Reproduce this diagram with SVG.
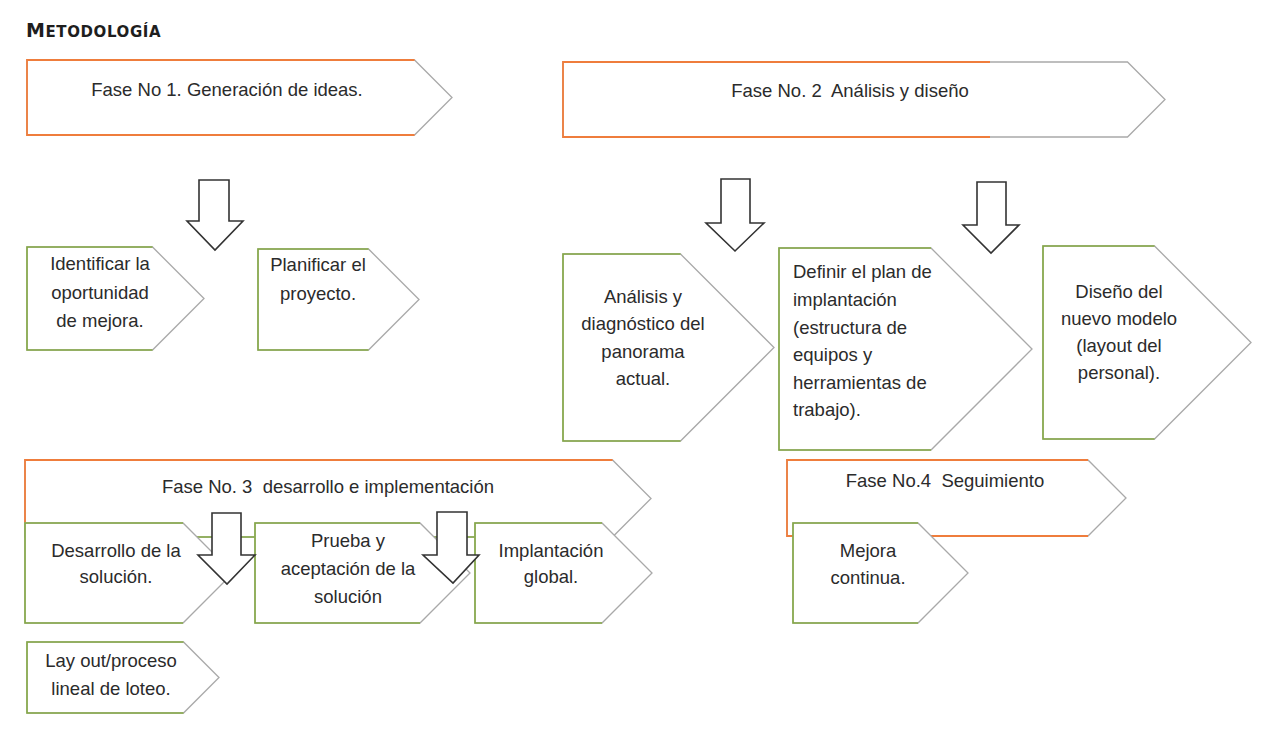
<svg xmlns="http://www.w3.org/2000/svg" width="1264" height="736" viewBox="0 0 1264 736">
<style>
.bg{fill:#fff}
.shape{fill:#fff;stroke:#a9a9a9;stroke-width:1.3}
.or{fill:none;stroke:#ef7d3c;stroke-width:1.8}
.gr{fill:none;stroke:#86ab45;stroke-width:1.6}
.t{font-family:"Liberation Sans",Arial,sans-serif;font-size:18.5px;fill:#2b2b2b;white-space:pre}
.c{text-anchor:middle}
.arr{fill:#fff;stroke:#333;stroke-width:1.6;stroke-linejoin:miter}
.title{font-family:"DejaVu Sans",sans-serif;font-weight:bold;fill:#1e1e1e;letter-spacing:0.6px}
</style>
<rect class="bg" x="0" y="0" width="1264" height="736"/>
<text class="title" x="26" y="37"><tspan font-size="19">M</tspan><tspan font-size="15">ETODOLOGÍA</tspan></text>

<g id="fase1">
<polygon class="shape" points="27,60 414.5,60 452,97.5 414.5,135 27,135"/>
<polyline class="or" points="414.5,60 27,60 27,135 414.5,135"/>
<text class="t c" x="227" y="96">Fase No 1. Generación de ideas.</text>
</g>
<g id="fase2">
<polygon class="shape" points="563,62 1127.5,62 1165,99.5 1127.5,137 563,137"/>
<polyline class="or" points="990,62 563,62 563,137 990,137"/>
<text class="t c" x="850" y="97" xml:space="preserve">Fase No. 2  Análisis y diseño</text>
</g>
<g id="fase3">
<polygon class="shape" points="25,460 612.5,460 651,498.5 612.5,537 25,537"/>
<polyline class="or" points="612.5,460 25,460 25,523"/>
<line class="gr" x1="25" y1="537" x2="612" y2="537"/>
<text class="t c" x="328" y="493" xml:space="preserve">Fase No. 3  desarrollo e implementación</text>
</g>
<g id="fase4">
<polygon class="shape" points="787,460 1088,460 1126,498 1088,536 787,536"/>
<polyline class="or" points="1088,460 787,460 787,536 1088,536"/>
<text class="t c" x="945" y="487" xml:space="preserve">Fase No.4  Seguimiento</text>
</g>

<g id="identificar">
<polygon class="shape" points="27,247 152.5,247 204,298.5 152.5,350 27,350"/>
<polyline class="gr" points="152.5,247 27,247 27,350 152.5,350"/>
<text class="t c"><tspan x="100" y="270">Identificar la</tspan><tspan x="100" y="299">oportunidad</tspan><tspan x="100" y="327">de mejora.</tspan></text>
</g>
<g id="planificar">
<polygon class="shape" points="258,249 368.5,249 419,299.5 368.5,350 258,350"/>
<polyline class="gr" points="368.5,249 258,249 258,350 368.5,350"/>
<text class="t c"><tspan x="318" y="271">Planificar el</tspan><tspan x="318" y="300">proyecto.</tspan></text>
</g>
<g id="analisis">
<polygon class="shape" points="563,254 680.5,254 774,347.5 680.5,441 563,441"/>
<polyline class="gr" points="680.5,254 563,254 563,441 680.5,441"/>
<text class="t c"><tspan x="643" y="303">Análisis y</tspan><tspan x="643" y="330">diagnóstico del</tspan><tspan x="643" y="358">panorama</tspan><tspan x="643" y="385">actual.</tspan></text>
</g>
<g id="definir">
<polygon class="shape" points="779,248 931,248 1032,349 931,450 779,450"/>
<polyline class="gr" points="931,248 779,248 779,450 931,450"/>
<text class="t"><tspan x="793" y="278">Definir el plan de</tspan><tspan x="793" y="306">implantación</tspan><tspan x="793" y="334">(estructura de</tspan><tspan x="793" y="361">equipos y</tspan><tspan x="793" y="389">herramientas de</tspan><tspan x="793" y="416">trabajo).</tspan></text>
</g>
<g id="diseno">
<polygon class="shape" points="1043,246 1154.5,246 1251,342.5 1154.5,439 1043,439"/>
<polyline class="gr" points="1154.5,246 1043,246 1043,439 1154.5,439"/>
<text class="t c"><tspan x="1119" y="298">Diseño del</tspan><tspan x="1119" y="325">nuevo modelo</tspan><tspan x="1119" y="352">(layout del</tspan><tspan x="1119" y="379">personal).</tspan></text>
</g>
<g id="desarrollo">
<polygon class="shape" points="25,523 183,523 233,573 183,623 25,623"/>
<polyline class="gr" points="183,523 25,523 25,623 183,623"/>
<text class="t c"><tspan x="116" y="557">Desarrollo de la</tspan><tspan x="116" y="583">solución.</tspan></text>
</g>
<g id="prueba">
<polygon class="shape" points="255,523 420,523 470,573 420,623 255,623"/>
<polyline class="gr" points="420,523 255,523 255,623 420,623"/>
<text class="t c"><tspan x="348" y="547">Prueba y</tspan><tspan x="348" y="575">aceptación de la</tspan><tspan x="348" y="603">solución</tspan></text>
</g>
<g id="implantacion">
<polygon class="shape" points="475,523 602,523 652,573 602,623 475,623"/>
<polyline class="gr" points="602,523 475,523 475,623 602,623"/>
<text class="t c"><tspan x="551" y="557">Implantación</tspan><tspan x="551" y="583">global.</tspan></text>
</g>
<g id="layout">
<polygon class="shape" points="27,642 183.5,642 219,677.5 183.5,713 27,713"/>
<polyline class="gr" points="183.5,642 27,642 27,713 183.5,713"/>
<text class="t c"><tspan x="111" y="667">Lay out/proceso</tspan><tspan x="111" y="695">lineal de loteo.</tspan></text>
</g>
<g id="mejora">
<polygon class="shape" points="793,523 918,523 968,573 918,623 793,623"/>
<polyline class="gr" points="918,523 793,523 793,623 918,623"/>
<text class="t c"><tspan x="868" y="557">Mejora</tspan><tspan x="868" y="584">continua.</tspan></text>
</g>

<g id="connectors">
<path class="arr" d="M199,180 H229 V221 H243 L215,250 L187,221 H199 Z"/>
<path class="arr" d="M721,179 H750 V223 H764 L735,251 L706,223 H721 Z"/>
<path class="arr" d="M977,182 H1006 V225 H1019 L991,253 L963,225 H977 Z"/>
<path class="arr" d="M212,513 H241 V555 H255 L227,584 L198,555 H212 Z"/>
<path class="arr" d="M437,512 H467 V555 H479 L453,583 L423,555 H437 Z"/>
</g>
</svg>
